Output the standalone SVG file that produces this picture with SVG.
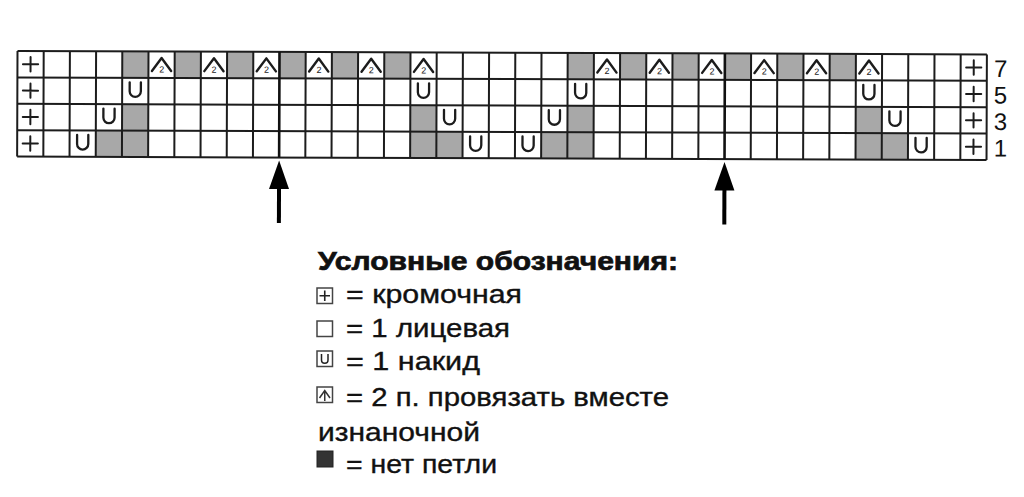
<svg xmlns="http://www.w3.org/2000/svg" xmlns:xlink="http://www.w3.org/1999/xlink" width="1024" height="497" viewBox="0 0 1024 497">
<style>
  .cell-gray { fill: #a8a8a8; }
  .grid { stroke: #1c1c1c; stroke-width: 2; fill: none; }
  .grid-thick { stroke: #111; stroke-width: 2.6; fill: none; }
  .sym { stroke: #1c1c1c; fill: none; stroke-linecap: round; stroke-linejoin: round; }
  .lbl { font-family: "Liberation Sans", Arial, sans-serif; font-size: 24px; fill: #111; }
  .title { font-family: "Liberation Sans", Arial, sans-serif; font-size: 25px; font-weight: bold; fill: #111; stroke: #111; stroke-width: 0.7; }
  .txt { font-family: "Liberation Sans", Arial, sans-serif; font-size: 25px; fill: #111; stroke: #111; stroke-width: 0.35; }
  .two { font-family: "Liberation Sans", Arial, sans-serif; font-size: 9px; fill: #1c1c1c; }
  .icon { stroke: #444; stroke-width: 1.5; fill: #fff; }
</style>
<defs>
  <g id="u"><path class="sym" stroke-width="2.3" d="M7.5 4.5 V13.5 A5.6 5.6 0 0 0 18.7 13.5 V4.5"/></g>
  <g id="k2"><path class="sym" stroke-width="2.4" d="M3.5 19.5 L13.1 6.5 L22.7 19.5"/><text class="two" x="13.3" y="21" text-anchor="middle">2</text></g>
  <g id="edge"><path class="sym" stroke-width="2" d="M13.1 6 V20.4 M5.5 13.2 H20.7"/></g>
</defs>
<rect width="1024" height="497" fill="#fff"/>

<g id="chart" transform="rotate(0.2 17.5 51)">
  <g id="gray-cells">
    <rect class="cell-gray" x="122.3" y="51" width="26.2" height="26.4"/>
    <rect class="cell-gray" x="174.7" y="51" width="26.2" height="26.4"/>
    <rect class="cell-gray" x="227.1" y="51" width="26.2" height="26.4"/>
    <rect class="cell-gray" x="279.5" y="51" width="26.2" height="26.4"/>
    <rect class="cell-gray" x="331.9" y="51" width="26.2" height="26.4"/>
    <rect class="cell-gray" x="384.3" y="51" width="26.2" height="26.4"/>
    <rect class="cell-gray" x="567.7" y="51" width="26.2" height="26.4"/>
    <rect class="cell-gray" x="620.1" y="51" width="26.2" height="26.4"/>
    <rect class="cell-gray" x="672.5" y="51" width="26.2" height="26.4"/>
    <rect class="cell-gray" x="724.9" y="51" width="26.2" height="26.4"/>
    <rect class="cell-gray" x="777.3" y="51" width="26.2" height="26.4"/>
    <rect class="cell-gray" x="829.7" y="51" width="26.2" height="26.4"/>
    <rect class="cell-gray" x="122.3" y="103.8" width="26.2" height="26.4"/>
    <rect class="cell-gray" x="410.5" y="103.8" width="26.2" height="26.4"/>
    <rect class="cell-gray" x="567.7" y="103.8" width="26.2" height="26.4"/>
    <rect class="cell-gray" x="855.9" y="103.8" width="26.2" height="26.4"/>
    <rect class="cell-gray" x="96.1" y="130.2" width="26.2" height="26.4"/>
    <rect class="cell-gray" x="122.3" y="130.2" width="26.2" height="26.4"/>
    <rect class="cell-gray" x="410.5" y="130.2" width="26.2" height="26.4"/>
    <rect class="cell-gray" x="436.7" y="130.2" width="26.2" height="26.4"/>
    <rect class="cell-gray" x="541.5" y="130.2" width="26.2" height="26.4"/>
    <rect class="cell-gray" x="567.7" y="130.2" width="26.2" height="26.4"/>
    <rect class="cell-gray" x="855.9" y="130.2" width="26.2" height="26.4"/>
    <rect class="cell-gray" x="882.1" y="130.2" width="26.2" height="26.4"/>
  </g>
  <g id="grid-lines">
    <path class="grid" d="M17.5 51 H986.9 M17.5 77.4 H986.9 M17.5 103.8 H986.9 M17.5 130.2 H986.9 M17.5 156.6 H986.9"/>
    <path class="grid" d="M17.5 51 V156.6 M43.7 51 V156.6 M69.9 51 V156.6 M96.1 51 V156.6 M122.3 51 V156.6 M148.5 51 V156.6 M174.7 51 V156.6 M200.9 51 V156.6 M227.1 51 V156.6 M253.3 51 V156.6 M305.7 51 V156.6 M331.9 51 V156.6 M358.1 51 V156.6 M384.3 51 V156.6 M410.5 51 V156.6 M436.7 51 V156.6 M462.9 51 V156.6 M489.1 51 V156.6 M515.3 51 V156.6 M541.5 51 V156.6 M567.7 51 V156.6 M593.9 51 V156.6 M620.1 51 V156.6 M646.3 51 V156.6 M672.5 51 V156.6 M698.7 51 V156.6 M751.1 51 V156.6 M777.3 51 V156.6 M803.5 51 V156.6 M829.7 51 V156.6 M855.9 51 V156.6 M882.1 51 V156.6 M908.3 51 V156.6 M934.5 51 V156.6 M960.7 51 V156.6 M986.9 51 V156.6"/>
    <path class="grid-thick" d="M279.5 51 V156.6 M724.9 51 V156.6"/>
  </g>
  <g id="edge-stitches">
    <use href="#edge" x="17.5" y="51"/><use href="#edge" x="17.5" y="77.4"/><use href="#edge" x="17.5" y="103.8"/><use href="#edge" x="17.5" y="130.2"/>
    <use href="#edge" x="960.7" y="51"/><use href="#edge" x="960.7" y="77.4"/><use href="#edge" x="960.7" y="103.8"/><use href="#edge" x="960.7" y="130.2"/>
  </g>
  <g id="yarn-overs">
    <use href="#u" x="122.3" y="77.4"/><use href="#u" x="410.5" y="77.4"/><use href="#u" x="567.7" y="77.4"/><use href="#u" x="855.9" y="77.4"/>
    <use href="#u" x="96.1" y="103.8"/><use href="#u" x="436.7" y="103.8"/><use href="#u" x="541.5" y="103.8"/><use href="#u" x="882.1" y="103.8"/>
    <use href="#u" x="69.9" y="130.2"/><use href="#u" x="462.9" y="130.2"/><use href="#u" x="515.3" y="130.2"/><use href="#u" x="908.3" y="130.2"/>
  </g>
  <g id="decreases">
    <use href="#k2" x="148.5" y="51"/><use href="#k2" x="200.9" y="51"/><use href="#k2" x="253.3" y="51"/><use href="#k2" x="305.7" y="51"/><use href="#k2" x="358.1" y="51"/><use href="#k2" x="410.5" y="51"/>
    <use href="#k2" x="593.9" y="51"/><use href="#k2" x="646.3" y="51"/><use href="#k2" x="698.7" y="51"/><use href="#k2" x="751.1" y="51"/><use href="#k2" x="803.5" y="51"/><use href="#k2" x="855.9" y="51"/>
  </g>
  <g id="row-labels">
    <text class="lbl" x="994" y="73.5">7</text>
    <text class="lbl" x="994" y="100">5</text>
    <text class="lbl" x="994" y="126.5">3</text>
    <text class="lbl" x="994" y="153">1</text>
  </g>
  <g id="connectors">
    <g id="arrow-left">
      <rect x="277.5" y="185" width="4" height="37" fill="#000"/>
      <path d="M279.5 159.5 L289.5 188 L269.5 188 Z" fill="#000"/>
    </g>
    <g id="arrow-right">
      <rect x="722.9" y="185" width="4" height="37" fill="#000"/>
      <path d="M724.9 159.5 L734.9 188 L714.9 188 Z" fill="#000"/>
    </g>
  </g>
</g>

<g id="legend">
  <text class="title" x="318" y="270" textLength="360" lengthAdjust="spacingAndGlyphs">Условные обозначения:</text>
  <g id="legend-edge">
    <rect class="icon" x="317" y="288" width="15.5" height="15.5"/>
    <path stroke="#222" stroke-width="1.6" d="M324.75 290.5 V301 M319.5 295.75 H330"/>
    <text class="txt" x="346" y="303" textLength="176" lengthAdjust="spacingAndGlyphs">= кромочная</text>
  </g>
  <g id="legend-knit">
    <rect class="icon" x="317" y="321" width="15.5" height="15.5"/>
    <text class="txt" x="346" y="337" textLength="164" lengthAdjust="spacingAndGlyphs">= 1 лицевая</text>
  </g>
  <g id="legend-yo">
    <rect class="icon" x="317" y="351" width="15.5" height="15.5"/>
    <path stroke="#222" stroke-width="1.5" fill="none" d="M321.5 354 V360 A3.25 3.25 0 0 0 328 360 V354"/>
    <text class="txt" x="346" y="370" textLength="134" lengthAdjust="spacingAndGlyphs">= 1 накид</text>
  </g>
  <g id="legend-dec">
    <rect class="icon" x="317" y="387" width="15.5" height="15.5"/>
    <path stroke="#333" stroke-width="1.5" fill="none" d="M319.5 398 L324.75 390.5 L330 398 M324.75 392 V401"/>
    <text class="txt" x="346" y="406" textLength="323" lengthAdjust="spacingAndGlyphs">= 2 п. провязать вместе</text>
    <text class="txt" x="318" y="441" textLength="162" lengthAdjust="spacingAndGlyphs">изнаночной</text>
  </g>
  <g id="legend-none">
    <rect x="317" y="451" width="16" height="16" fill="#333" stroke="#222" stroke-width="1"/>
    <text class="txt" x="346" y="473" textLength="151" lengthAdjust="spacingAndGlyphs">= нет петли</text>
  </g>
</g>
</svg>
